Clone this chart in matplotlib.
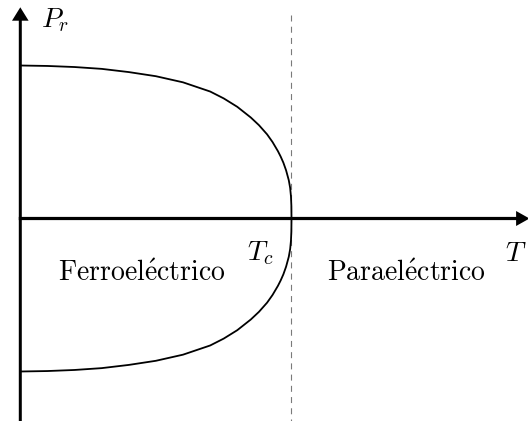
import matplotlib
matplotlib.use("Agg")
import matplotlib.pyplot as plt
from matplotlib.patches import FancyArrow

plt.rcParams['mathtext.fontset'] = 'cm'
plt.rcParams['font.family'] = ['DejaVu Serif']

# Reduced temperature T/Tc and remanent polarisation Pr/P0
t_vals = [0.0, 0.1, 0.2, 0.3, 0.4, 0.5, 0.6, 0.7, 0.75, 0.8, 0.85, 0.88,
          0.91, 0.93, 0.95, 0.96, 0.97, 0.98, 0.99, 0.995, 0.998, 0.9995, 1.0]
p_vals = [1.0, 0.997, 0.990, 0.978, 0.957, 0.930, 0.890, 0.830, 0.785, 0.730,
          0.660, 0.610, 0.550, 0.500, 0.440, 0.405, 0.365, 0.315, 0.250, 0.200,
          0.145, 0.085, 0.0]
tc = 1.0
labels = {'y': r'$P_r$', 'x': r'$T$', 'tc': r'$T_c$',
          'left': r'$\mathrm{Ferroel\acute{e}ctrico}$',
          'right': r'$\mathrm{Parael\acute{e}ctrico}$'}

W, H = 528, 421
X0, SX = 20.3, 271.2   # pixel column of T=0, pixels per unit
Y0, SY = 218.5, 153.0  # pixel row of P=0, pixels per unit


def cx(px):
    return (px - X0) / SX


def cy(row):
    return (Y0 - row) / SY


fig = plt.figure(figsize=(W / 100, H / 100), dpi=100)
ax = fig.add_axes([0, 0, 1, 1])
ax.axis('off')
ax.set_xlim(cx(0), cx(W))
ax.set_ylim(cy(H), cy(0))

# dashed line at Tc
ax.plot([tc, tc], [cy(15), cy(H)], color='#7a7a7a', lw=0.8,
        dashes=(5.4, 4.7), zorder=1)

# curve: upper branch then lower branch
T = t_vals + t_vals[::-1]
P = p_vals + [-p for p in p_vals[::-1]]
ax.plot(T, P, color='k', lw=1.3, solid_joinstyle='round', zorder=2)

# axes arrows
ax.add_patch(FancyArrow(0, cy(H + 2), 0, cy(7.3) - cy(H + 2),
                        width=3.0 / SX, head_width=16.6 / SX,
                        head_length=13.4 / SY, length_includes_head=True,
                        color='k', lw=0, zorder=3))
ax.add_patch(FancyArrow(cx(18.8), 0, cx(529.5) - cx(18.8), 0,
                        width=3.2 / SY, head_width=15.0 / SY,
                        head_length=13.4 / SX, length_includes_head=True,
                        color='k', lw=0, zorder=3))

fs = 20
ax.text(cx(41), cy(27), labels['y'], fontsize=fs, ha='left', va='baseline')
ax.text(cx(505), cy(261), labels['x'], fontsize=fs, ha='left', va='baseline')
ax.text(cx(247), cy(260), labels['tc'], fontsize=fs, ha='left', va='baseline')
ax.text(cx(58), cy(281), labels['left'], fontsize=fs, ha='left', va='baseline')
ax.text(cx(327), cy(281), labels['right'], fontsize=fs, ha='left', va='baseline')

fig.savefig('out.png', dpi=100)
